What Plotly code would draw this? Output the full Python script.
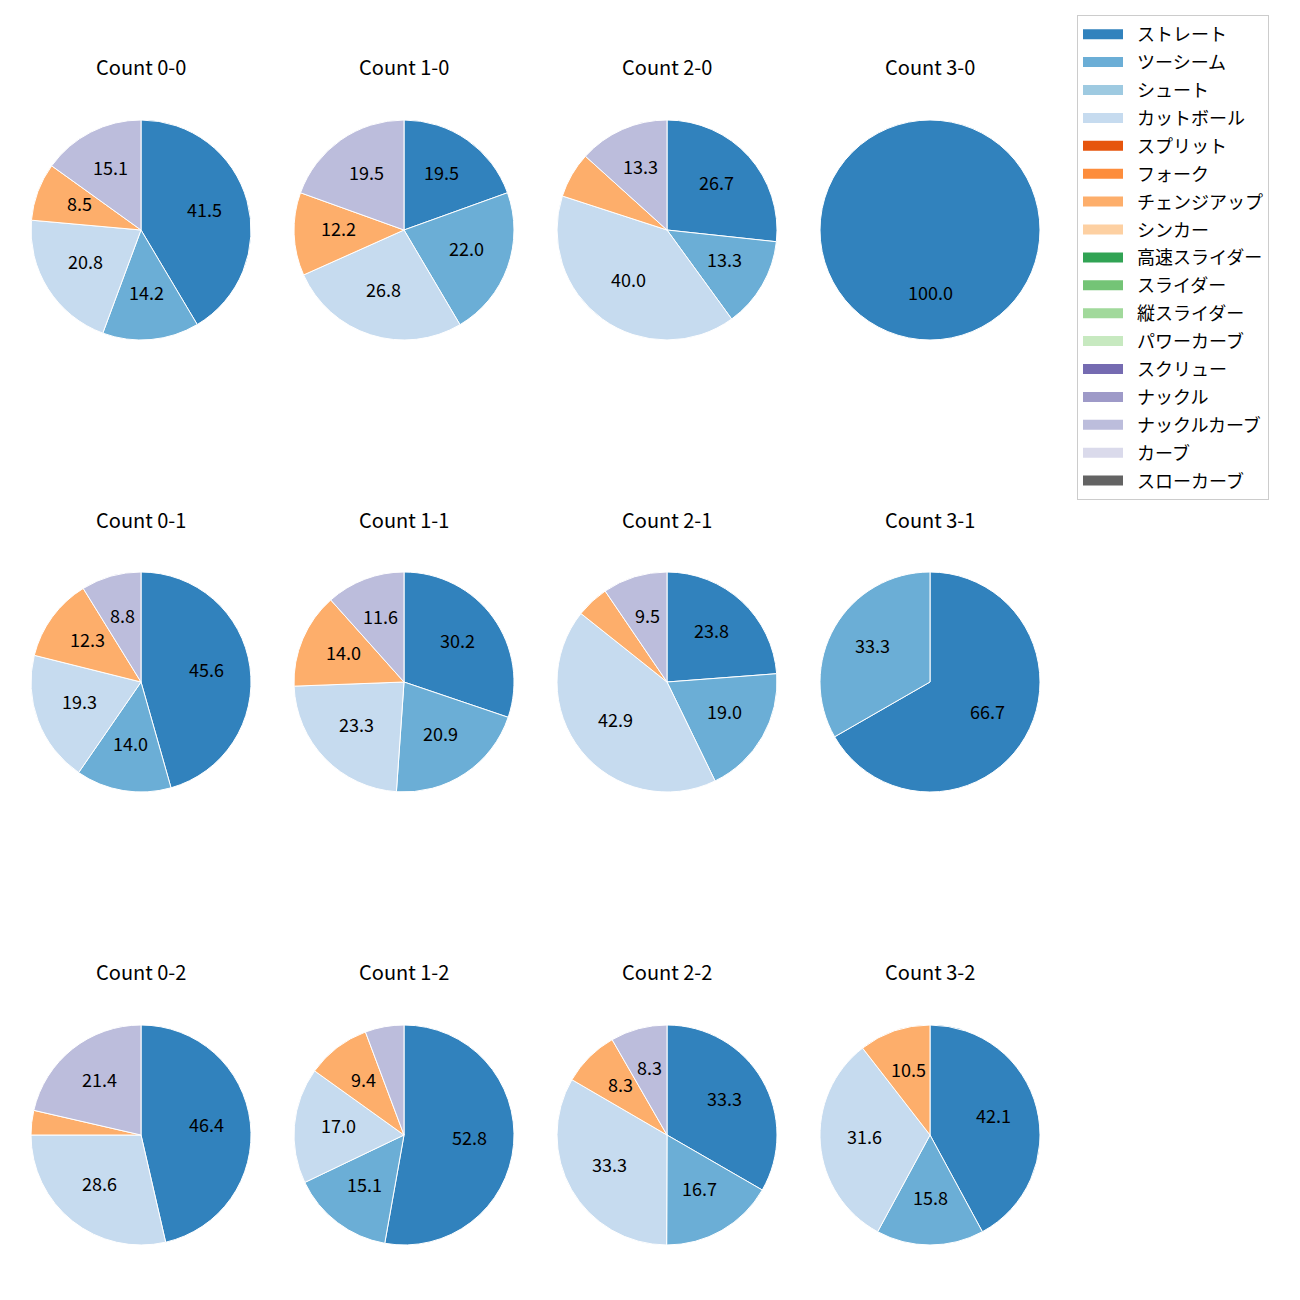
import math
import plotly.graph_objects as go

pitch_types = ["ストレート", "ツーシーム", "シュート", "カットボール", "スプリット", "フォーク",
               "チェンジアップ", "シンカー", "高速スライダー", "スライダー", "縦スライダー",
               "パワーカーブ", "スクリュー", "ナックル", "ナックルカーブ", "カーブ", "スローカーブ"]
colors = ["#3182bd", "#6baed6", "#9ecae1", "#c6dbef", "#e6550d", "#fd8d3c", "#fdae6b", "#fdd0a2",
          "#31a354", "#74c476", "#a1d99b", "#c7e9c0", "#756bb1", "#9e9ac8", "#bcbddc", "#dadaeb",
          "#636363"]

counts = ["0-0", "1-0", "2-0", "3-0",
          "0-1", "1-1", "2-1", "3-1",
          "0-2", "1-2", "2-2", "3-2"]

# percentages per count
straight   = [41.5, 19.5, 26.7, 100.0, 45.6, 30.2, 23.8, 66.7, 46.4, 52.8, 33.3, 42.1]
twoseam    = [14.2, 22.0, 13.3, 0.0, 14.0, 20.9, 19.0, 33.3, 0.0, 15.1, 16.7, 15.8]
cutter     = [20.8, 26.8, 40.0, 0.0, 19.3, 23.3, 42.9, 0.0, 28.6, 17.0, 33.3, 31.6]
changeup   = [8.5, 12.2, 6.7, 0.0, 12.3, 14.0, 4.8, 0.0, 3.6, 9.4, 8.3, 10.5]
knucklecrv = [15.1, 19.5, 13.3, 0.0, 8.8, 11.6, 9.5, 0.0, 21.4, 5.7, 8.3, 0.0]

series = {"ストレート": straight, "ツーシーム": twoseam, "カットボール": cutter,
          "チェンジアップ": changeup, "ナックルカーブ": knucklecrv}

label_min = 8.0

col_cx = [141, 404, 667, 930]
row_cy = [230, 682, 1135]
title_y = [69, 521, 973]
R = 110
W = H = 1300
FONT = "Noto Sans CJK JP"

fig = go.Figure()
annotations = []
for i, c in enumerate(counts):
    r, k = divmod(i, 4)
    labs, vals, cols = [], [], []
    for p, col in zip(pitch_types, colors):
        if p in series and series[p][i] > 0:
            labs.append(p)
            vals.append(series[p][i])
            cols.append(col)
    cx, cy = col_cx[k], row_cy[r]
    fig.add_trace(go.Pie(
        labels=labs, values=vals, textinfo="none",
        sort=False, direction="clockwise", rotation=0,
        marker=dict(colors=cols, line=dict(color="white", width=1)),
        domain=dict(x=[(cx - R) / W, (cx + R) / W], y=[1 - (cy + R) / H, 1 - (cy - R) / H]),
        showlegend=False, hoverinfo="label+percent",
    ))
    total = sum(vals)
    cum = 0.0
    for v in vals:
        mid = (cum + v / 2) / total * 2 * math.pi
        cum += v
        if v < label_min:
            continue
        tx = cx + 0.6 * R * math.sin(mid)
        ty = cy - 0.6 * R * math.cos(mid)
        annotations.append(dict(text=f"{v:.1f}", x=tx / W, y=1 - ty / H,
                                xref="paper", yref="paper", showarrow=False, yshift=4,
                                font=dict(size=18, color="black", family=FONT),
                                xanchor="center", yanchor="middle"))
    annotations.append(dict(text=f"Count {c}", x=cx / W, y=1 - title_y[r] / H,
                            xref="paper", yref="paper", showarrow=False, yshift=2,
                            font=dict(size=20, color="black", family=FONT),
                            xanchor="center", yanchor="middle"))

# legend entries (one per pitch type)
for j, (p, col) in enumerate(zip(pitch_types, colors)):
    fig.add_trace(go.Scatter(x=[None], y=[None], mode="lines", name="\u2002" + p,
                             line=dict(color=col, width=13), legendgroup=f"g{j}",
                             showlegend=True, hoverinfo="skip"))

fig.update_layout(
    width=W, height=H, margin=dict(l=0, r=0, t=0, b=0),
    paper_bgcolor="white", plot_bgcolor="white",
    font=dict(family=FONT, color="black"),
    annotations=annotations,
    xaxis=dict(visible=False), yaxis=dict(visible=False),
    legend=dict(x=1077 / W, y=1 - 15 / H, xanchor="left", yanchor="top",
                bordercolor="#cccccc", borderwidth=1, font=dict(size=18, family=FONT),
                traceorder="grouped", tracegroupgap=1.5, itemwidth=40),
)
fig.write_html("out.html")
